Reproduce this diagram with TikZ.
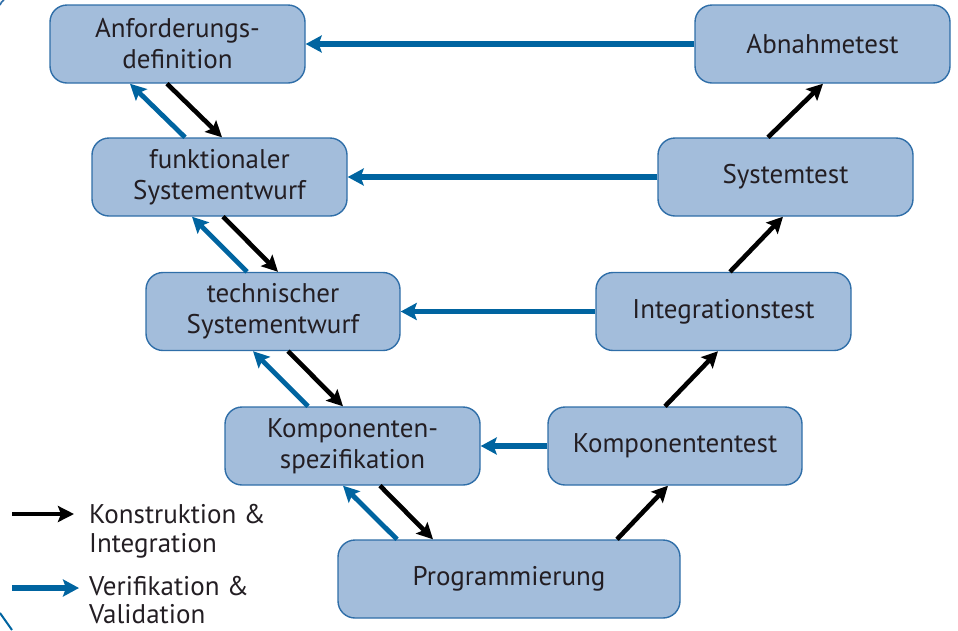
\documentclass[tikz,border=0pt]{standalone}
\usepackage{fontspec}
\setmainfont{PT Sans}
\usetikzlibrary{arrows.meta,calc}
\definecolor{boxfill}{RGB}{163,189,219}
\definecolor{boxdraw}{RGB}{47,110,168}
\definecolor{vblue}{RGB}{0,100,160}
\definecolor{txt}{RGB}{35,30,35}
\tikzset{
  phase/.style={draw=boxdraw, fill=boxfill, line width=1.4pt, rounded corners=17pt,
    minimum width=255pt, minimum height=78pt, inner sep=0pt, align=center,
    text=txt, font=\fontsize{27}{31}\selectfont},
  karrow/.style={draw=black, line width=4.6pt, -{Stealth[length=16pt,width=16pt,inset=3pt]}},
  barrow/.style={draw=vblue, line width=4.8pt, -{Stealth[length=16pt,width=16pt,inset=3pt]}},
  hbarrow/.style={draw=vblue, line width=5.5pt, -{Stealth[length=16pt,width=17pt,inset=3pt]}},
  legtext/.style={anchor=west, inner sep=0pt, text=txt, font=\fontsize{27}{31}\selectfont}
}
\begin{document}
\begin{tikzpicture}[x=1pt,y=1pt]
\useasboundingbox (0,0) rectangle (958,-630);
% nodes
\node[phase] (A) at (177.5,-44) {Anforderungs-\\definition};
\node[phase] (B) at (822.5,-44) {Abnahmetest};
\node[phase] (F) at (219.5,-177) {funktionaler\\Systementwurf};
\node[phase] (S) at (785.5,-177) {Systemtest};
\node[phase, minimum width=254pt] (T) at (273,-311.5) {technischer\\Systementwurf};
\node[phase] (I) at (723.5,-311.5) {Integrationstest};
\node[phase] (K) at (352.5,-446) {Komponenten-\\spezifikation};
\node[phase, minimum width=254pt] (KT) at (675,-446) {Komponententest};
\node[phase, minimum width=342pt] (P) at (509,-579) {Programmierung};
% horizontal validation arrows
\draw[hbarrow] (B.west) -- (A.east);
\draw[hbarrow] (S.west) -- (F.east);
\draw[hbarrow] (I.west) -- (T.east);
\draw[hbarrow] (KT.west) -- (K.east);
% left branch
\draw[karrow] ([xshift=-10.5pt]A.south) -- ([xshift=2.5pt]F.north);
\draw[barrow] ([xshift=-34.5pt]F.north) -- ([xshift=-47.5pt]A.south);
\draw[karrow] ([xshift=3.5pt]F.south) -- ([xshift=5pt]T.north);
\draw[barrow] ([xshift=-26pt]T.north) -- ([xshift=-27.5pt]F.south);
\draw[karrow] ([xshift=15pt]T.south) -- ([xshift=-9.5pt]K.north);
\draw[barrow] ([xshift=-44.5pt]K.north) -- ([xshift=-20pt]T.south);
\draw[karrow] ([xshift=27.5pt]K.south) -- ([xshift=-76pt]P.north);
\draw[barrow] ([xshift=-112pt]P.north) -- ([xshift=-9.5pt]K.south);
% right branch
\draw[karrow] ([xshift=108pt]P.north) -- ([xshift=-7pt]KT.south);
\draw[karrow] ([xshift=-10pt]KT.north) -- ([xshift=-5.5pt]I.south);
\draw[karrow] ([xshift=6.5pt]I.north) -- ([xshift=-2.5pt]S.south);
\draw[karrow] ([xshift=-17.5pt]S.north) -- ([xshift=0.5pt]B.south);
% legend
\coordinate (l1s) at (12,-514);
\coordinate (l1e) at (74,-514);
\coordinate (l2s) at (12,-588);
\coordinate (l2e) at (79,-588);
\draw[karrow] (l1s) -- (l1e);
\draw[hbarrow] (l2s) -- (l2e);
\node[legtext] (lt1) at (89,-514) {Konstruktion \&};
\node[legtext] (lt2) at (89,-546) {Integration};
\node[legtext] (lt3) at (89,-586) {Verifikation \&};
\node[legtext] (lt4) at (89,-614) {Validation};
% cropped frame remnants
\draw[boxdraw, line width=1.6pt] (0,-5) to[bend left=20] (4,0);
\draw[vblue, line width=2pt] (0,-613) -- (12,-630);
\end{tikzpicture}
\end{document}
